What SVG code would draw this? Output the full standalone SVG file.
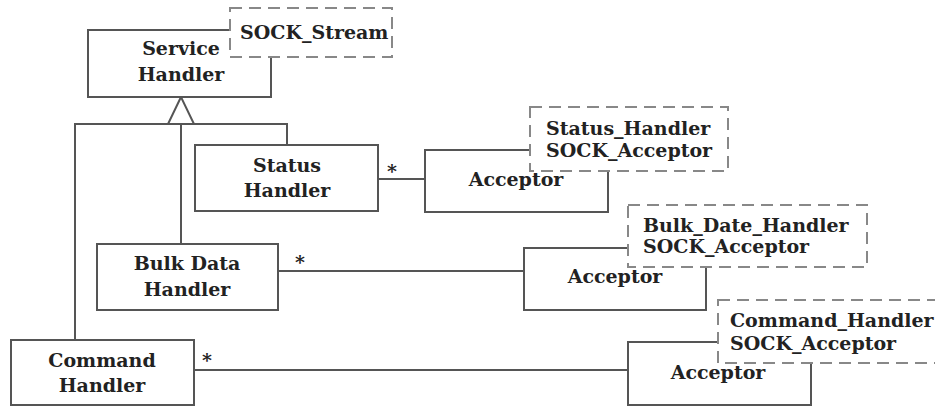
<svg xmlns="http://www.w3.org/2000/svg" width="935" height="407" viewBox="0 0 935 407">
<style>
.box{fill:#fff;stroke:#555;stroke-width:2}
.note{fill:#fff;stroke:#888;stroke-width:2;stroke-dasharray:12 7}
.ln{fill:none;stroke:#555;stroke-width:2}
text{font-family:"DejaVu Serif","Liberation Serif",serif;font-weight:bold;font-size:19px;fill:#222}
.c{text-anchor:middle}
</style>
<rect width="935" height="407" fill="#fff"/>
<g id="connectors">
<polyline class="ln" points="75,340 75,124 287,124 287,145"/>
<line class="ln" x1="181" y1="124" x2="181" y2="244"/>
<polygon class="ln" points="181,97 168,124 194,124" fill="#fff"/>
<line class="ln" x1="378" y1="179" x2="425" y2="179"/>
<line class="ln" x1="278" y1="271" x2="524" y2="271"/>
<line class="ln" x1="194" y1="370" x2="628" y2="370"/>
<text class="c" x="392" y="178">*</text>
<text class="c" x="300" y="269">*</text>
<text class="c" x="207" y="367">*</text>
</g>
<g id="service-handler">
<rect class="box" x="88" y="30" width="183" height="67"/>
<text class="c" x="181" y="55">Service</text>
<text class="c" x="181" y="81">Handler</text>
</g>
<g id="sock-stream">
<rect class="note" x="230" y="8" width="162" height="49"/>
<text x="240" y="39">SOCK_Stream</text>
</g>
<g id="status-handler">
<rect class="box" x="195" y="145" width="183" height="66"/>
<text class="c" x="287" y="172">Status</text>
<text class="c" x="287" y="197">Handler</text>
</g>
<g id="acceptor-status">
<rect class="box" x="425" y="150" width="183" height="62"/>
<text class="c" x="516" y="186">Acceptor</text>
</g>
<g id="note-status">
<rect class="note" x="530" y="107" width="198" height="64"/>
<text x="546" y="135">Status_Handler</text>
<text x="546" y="157">SOCK_Acceptor</text>
</g>
<g id="bulk-data-handler">
<rect class="box" x="97" y="244" width="181" height="66"/>
<text class="c" x="187" y="270">Bulk Data</text>
<text class="c" x="187" y="296">Handler</text>
</g>
<g id="acceptor-bulk">
<rect class="box" x="524" y="248" width="182" height="62"/>
<text class="c" x="615" y="283">Acceptor</text>
</g>
<g id="note-bulk">
<rect class="note" x="628" y="205" width="239" height="62"/>
<text x="643" y="232">Bulk_Date_Handler</text>
<text x="643" y="253">SOCK_Acceptor</text>
</g>
<g id="command-handler">
<rect class="box" x="11" y="340" width="183" height="65"/>
<text class="c" x="102" y="367">Command</text>
<text class="c" x="102" y="392">Handler</text>
</g>
<g id="acceptor-command">
<rect class="box" x="628" y="342" width="183" height="63"/>
<text class="c" x="718" y="379">Acceptor</text>
</g>
<g id="note-command">
<rect class="note" x="718" y="300" width="225" height="63"/>
<text x="730" y="327">Command_Handler</text>
<text x="730" y="350">SOCK_Acceptor</text>
</g>
</svg>
